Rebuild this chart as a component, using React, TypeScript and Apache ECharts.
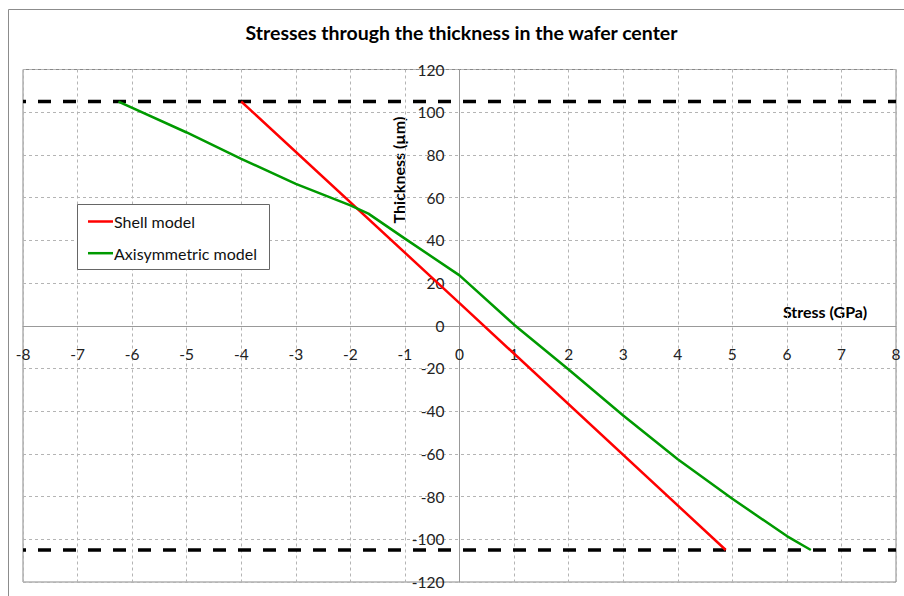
import React, { useEffect, useRef } from "react";
import * as echarts from "echarts";

// Stress (GPa) vs. position through the wafer thickness (µm)
const shellStress = [-4.0, 0, 4.88];
const shellThickness = [105, 10.6, -105];

const axiStress = [-6.25, -5, -4, -3, -2, -1.67, -1, 0, 1, 2, 3, 4, 5, 6, 6.44];
const axiThickness = [105, 90.5, 78.2, 66.4, 56.4, 52.5, 40.8, 23.6, 0.5, -20.5, -42, -62.5, -81, -98.5, -105];

// Wafer top and bottom surfaces
const surfaceThickness = [105, -105];
const stressRange = [-8, 8];

const seriesNames = ["Shell model", "Axisymmetric model"];
const seriesColors = ["#ff0000", "#009a00"];

const FONT = "Lato, 'Open Sans', sans-serif";

// plot rectangle
const GRID = { left: 23, top: 69.5, right: 8, bottom: 14 };
const W = 904;
const H = 596;

export default function App() {
  const ref = useRef<HTMLDivElement>(null);

  useEffect(() => {
    if (!ref.current) return;
    const chart = echarts.init(ref.current, undefined, { renderer: "svg" });

    const pair = (xs: number[], ys: number[]) => xs.map((x, i) => [x, ys[i]]);

    // axes cross at the origin: shift each axis from its grid edge onto zero
    const plotW = W - GRID.left - GRID.right;
    const plotH = H - GRID.top - GRID.bottom;
    const xOffset = -(plotH * (0 - -120)) / 240;
    const yOffset = -(plotW * (0 - -8)) / 16;

    const surfaceSeries = surfaceThickness.map((t, i) => ({
      name: "surface" + i,
      type: "line",
      data: stressRange.map((s) => [s, t]),
      symbol: "none",
      silent: true,
      z: 1,
      lineStyle: { color: "#000", width: 3.5, type: [13, 12], dashOffset: 10 },
    }));

    const legendGraphics: any[] = [
      {
        type: "rect",
        silent: true,
        shape: { x: 77.5, y: 204.5, width: 192, height: 65 },
        style: { fill: "#fff", stroke: "#666", lineWidth: 1 },
        z: 10,
      },
    ];
    seriesNames.forEach((name, i) => {
      const cy = 221.5 + i * 31.7;
      legendGraphics.push({
        type: "line",
        silent: true,
        shape: { x1: 88, y1: cy, x2: 113, y2: cy },
        style: { stroke: seriesColors[i], lineWidth: 2.5 },
        z: 11,
      });
      legendGraphics.push({
        type: "text",
        x: 114,
        y: cy,
        z: 11,
        style: {
          text: name,
          font: `16px ${FONT}`,
          fill: "#111",
          textAlign: "left",
          textVerticalAlign: "middle",
        },
      });
    });

    chart.setOption({
      animation: false,
      textStyle: { fontFamily: FONT },
      graphic: [
        {
          type: "rect",
          silent: true,
          shape: { x: 8.5, y: 9.5, width: 920, height: 620 },
          style: { fill: "none", stroke: "#8c8c8c", lineWidth: 1 },
        },
        {
          type: "text",
          x: 461.5,
          y: 32,
          style: {
            text: "Stresses through the thickness in the wafer center",
            font: `bold 19.5px ${FONT}`,
            fill: "#000",
            textAlign: "center",
            textVerticalAlign: "middle",
          },
        },
        {
          type: "text",
          x: 398,
          y: 170,
          rotation: Math.PI / 2,
          style: {
            text: "Thickness (µm)",
            font: `bold 16px ${FONT}`,
            fill: "#000",
            textAlign: "center",
            textVerticalAlign: "middle",
          },
        },
        {
          type: "text",
          x: 825,
          y: 311,
          style: {
            text: "Stress (GPa)",
            font: `bold 16px ${FONT}`,
            fill: "#000",
            textAlign: "center",
            textVerticalAlign: "middle",
          },
        },
        ...legendGraphics,
      ],
      grid: {
        ...GRID,
        outerBoundsMode: "none",
        containLabel: false,
        show: true,
        borderColor: "#888",
        borderWidth: 1,
        backgroundColor: "transparent",
      },
      xAxis: {
        type: "value",
        position: "bottom",
        offset: xOffset,
        min: -8,
        max: 8,
        interval: 1,
        axisLine: { onZero: false, lineStyle: { color: "#999", width: 1 } },
        axisTick: { show: false },
        axisLabel: { margin: 20, fontSize: 15.5, color: "#222", fontFamily: FONT },
        splitLine: { show: true, lineStyle: { color: "#b4b4b4", type: [3, 3], width: 1 } },
      },
      yAxis: {
        type: "value",
        position: "left",
        offset: yOffset,
        min: -120,
        max: 120,
        interval: 20,
        axisLine: { onZero: false, lineStyle: { color: "#999", width: 1 } },
        axisTick: { show: false },
        axisLabel: { margin: 15, fontSize: 15.5, color: "#222", fontFamily: FONT },
        splitLine: { show: true, lineStyle: { color: "#b4b4b4", type: [3, 3], width: 1 } },
      },
      series: [
        ...surfaceSeries,
        {
          name: seriesNames[0],
          type: "line",
          data: pair(shellStress, shellThickness),
          symbol: "none",
          z: 3,
          color: seriesColors[0],
          lineStyle: { color: seriesColors[0], width: 2.5 },
        },
        {
          name: seriesNames[1],
          type: "line",
          data: pair(axiStress, axiThickness),
          symbol: "none",
          z: 3,
          color: seriesColors[1],
          lineStyle: { color: seriesColors[1], width: 2.5 },
        },
      ],
    });

    return () => chart.dispose();
  }, []);

  return (
    <div
      ref={ref}
      style={{ position: "absolute", left: 0, top: 0, width: W, height: H, background: "#fff" }}
    />
  );
}
